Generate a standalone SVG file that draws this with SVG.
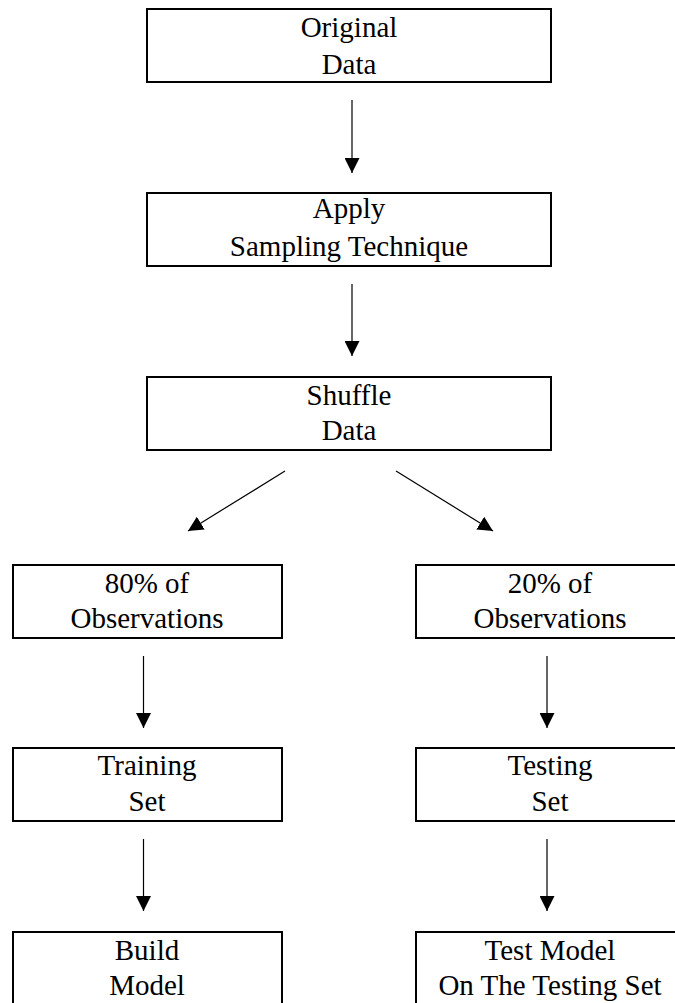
<svg xmlns="http://www.w3.org/2000/svg" width="675" height="1003" viewBox="0 0 675 1003">
<style>
.box{fill:#fff;stroke:#000;stroke-width:2}
.lbl{font-size:29px;fill:#000;text-anchor:middle}
.arr{stroke:#000;stroke-width:1.2;fill:none;marker-end:url(#ah)}
</style>
<defs>
<marker id="ah" markerUnits="userSpaceOnUse" markerWidth="16" markerHeight="15" viewBox="0 0 16 15" refX="15" refY="7.5" orient="auto">
<path d="M0,0 L15,7.5 L0,15 Z" fill="#000"/>
</marker>
</defs>
<rect width="675" height="1003" fill="#fff"/>
<g font-family="Liberation Serif, Times New Roman, DejaVu Serif, serif">
<g id="n-original">
<rect class="box" x="147" y="9" width="404" height="73"/>
<text class="lbl" x="349" y="37">Original</text>
<text class="lbl" x="349" y="74">Data</text>
</g>
<g id="n-sampling">
<rect class="box" x="147" y="193" width="404" height="73"/>
<text class="lbl" x="349" y="218">Apply</text>
<text class="lbl" x="349" y="256">Sampling Technique</text>
</g>
<g id="n-shuffle">
<rect class="box" x="147" y="377" width="404" height="73"/>
<text class="lbl" x="349" y="405">Shuffle</text>
<text class="lbl" x="349" y="440">Data</text>
</g>
<g id="n-80">
<rect class="box" x="13" y="565" width="269" height="73"/>
<text class="lbl" x="147" y="593">80% of</text>
<text class="lbl" x="147" y="628">Observations</text>
</g>
<g id="n-20">
<rect class="box" x="416" y="565" width="269" height="73"/>
<text class="lbl" x="550" y="593">20% of</text>
<text class="lbl" x="550" y="628">Observations</text>
</g>
<g id="n-training">
<rect class="box" x="13" y="748" width="269" height="73"/>
<text class="lbl" x="147" y="775">Training</text>
<text class="lbl" x="147" y="811">Set</text>
</g>
<g id="n-testing">
<rect class="box" x="416" y="748" width="269" height="73"/>
<text class="lbl" x="550" y="775">Testing</text>
<text class="lbl" x="550" y="811">Set</text>
</g>
<g id="n-build">
<rect class="box" x="13" y="932" width="269" height="80"/>
<text class="lbl" x="147" y="960">Build</text>
<text class="lbl" x="147" y="995">Model</text>
</g>
<g id="n-test">
<rect class="box" x="416" y="932" width="269" height="80"/>
<text class="lbl" x="550" y="960">Test Model</text>
<text class="lbl" x="550" y="995">On The Testing Set</text>
</g>
</g>
<g id="connectors">
<line class="arr" x1="352" y1="100" x2="352" y2="173"/>
<line class="arr" x1="352" y1="284" x2="352" y2="356"/>
<line class="arr" x1="285" y1="471" x2="188" y2="531"/>
<line class="arr" x1="396" y1="471" x2="493" y2="531"/>
<line class="arr" x1="143.5" y1="656" x2="143.5" y2="728"/>
<line class="arr" x1="547" y1="656" x2="547" y2="728"/>
<line class="arr" x1="143.5" y1="839" x2="143.5" y2="911"/>
<line class="arr" x1="547" y1="839" x2="547" y2="911"/>
</g>
</svg>
